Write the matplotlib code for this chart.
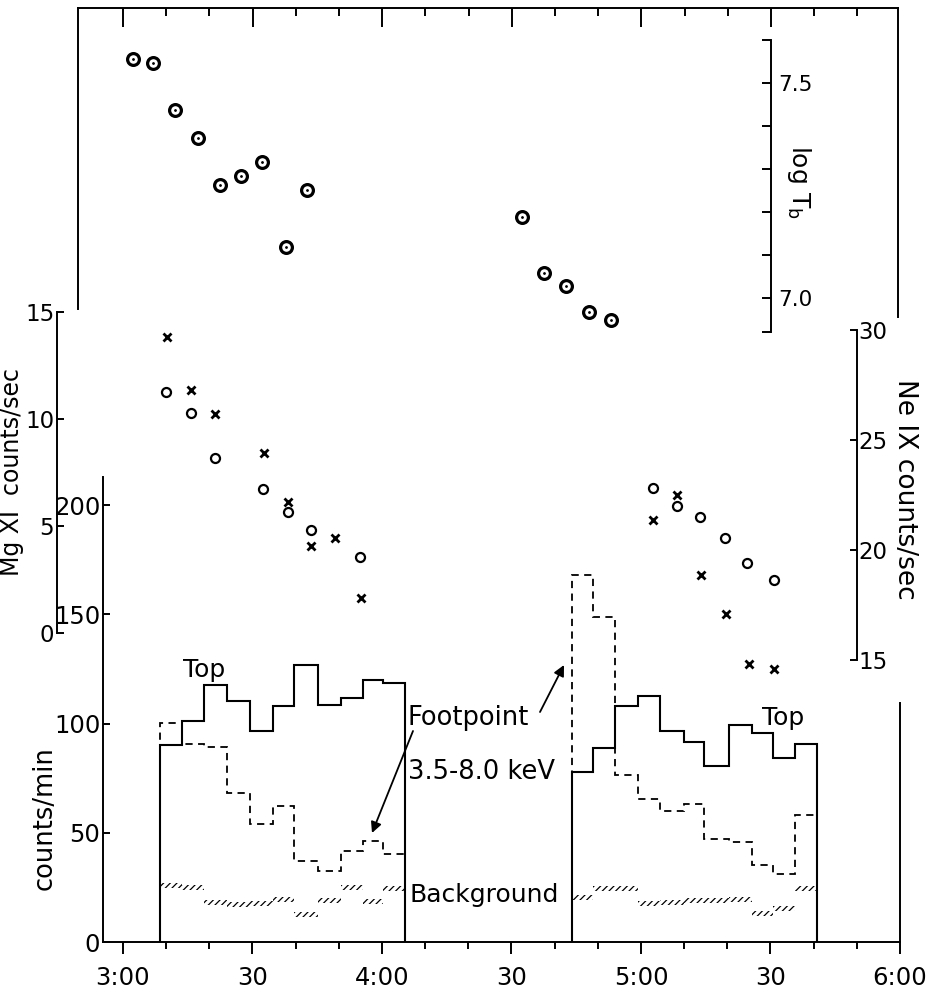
import matplotlib
matplotlib.use('Agg')
import matplotlib.pyplot as plt
from matplotlib.ticker import FixedLocator, NullFormatter

plt.rcParams['font.family'] = ['DejaVu Sans']
plt.rcParams['hatch.color'] = 'black'
plt.rcParams['hatch.linewidth'] = 0.9

# ---- data, time in minutes after 3:00 UT ----
# log Tb (circled dots, top panel)
tb_time = [2.3, 7.0, 12.1, 17.3, 22.5, 27.3, 32.1, 37.7, 42.5,
           92.3, 97.5, 102.5, 107.9, 112.9]
tb_logT = [7.556, 7.546, 7.437, 7.372, 7.262, 7.284, 7.315, 7.117, 7.250,
           7.188, 7.058, 7.027, 6.967, 6.947]

# Mg XI counts/sec (open circles, left scale)
mg_time = [10.0, 15.7, 21.3, 32.4, 38.1, 43.5, 54.9,
           122.6, 128.2, 133.5, 139.3, 144.5, 150.7]
mg_rate = [11.24, 10.29, 8.16, 6.73, 5.67, 4.79, 3.54,
           6.76, 5.94, 5.44, 4.46, 3.29, 2.49]

# Ne IX counts/sec (crosses, right scale)
ne_time = [10.1, 15.7, 21.3, 32.6, 38.1, 43.5, 49.1, 55.1,
           122.8, 128.3, 133.8, 139.5, 144.9, 150.7]
ne_rate = [29.67, 27.27, 26.18, 24.43, 22.16, 20.17, 20.53, 17.83,
           21.38, 22.49, 18.88, 17.11, 14.80, 14.61]

# HXR histograms 3.5-8.0 keV, counts/min
edges_1 = [8.6, 13.6, 18.8, 24.1, 29.4, 34.8, 39.7, 45.2, 50.4, 55.6, 60.3, 65.3]
top_1 = [90.1, 101.1, 117.8, 110.2, 96.8, 108.1, 126.7, 108.4, 111.7, 120.1, 118.6]
foot_1 = [100.3, 90.5, 89.5, 68.4, 54.2, 62.1, 36.9, 32.5, 41.5, 46.1, 40.5]
bg_1 = [26, 25, 18, 17, 17.5, 19.5, 12.5, 19, 25, 18.5, 24.5]

edges_2 = [104.1, 108.9, 114.0, 119.4, 124.5, 129.9, 134.6, 140.3, 145.8, 150.5, 155.7, 160.8]
top_2 = [77.8, 88.8, 108.1, 112.6, 96.6, 91.6, 80.4, 99.2, 95.7, 84.4, 90.7]
foot_2 = [167.9, 148.8, 76.3, 65.6, 60.0, 63.4, 47.3, 45.8, 35.4, 31.3, 58.0]
bg_2 = [20.5, 24.5, 24.5, 17.5, 18, 19, 19, 19.5, 13, 15.5, 24.5]

x_major = [0, 30, 60, 90, 120, 150, 180]
x_labels = ['3:00', '30', '4:00', '30', '5:00', '30', '6:00']
x_minor = [10, 20, 40, 50, 70, 80, 100, 110, 130, 140, 160, 170]

# ---- layout in pixels of the 926x991 image ----
W, H = 926, 991
X0, K = 123.0, 4.32   # pixel of 3:00 and pixels per minute
LW = 1.4
FS = 17.5


def box(l, t, r, b):
    return [l / W, 1 - b / H, (r - l) / W, (b - t) / H]


def tlim(l, r):
    return ((l - X0) / K, (r - X0) / K)


def fxy(px, py):
    return (px / W, 1 - py / H)


def bare(ax):
    ax.set_facecolor('none')
    for s in ax.spines.values():
        s.set_visible(False)
        s.set_linewidth(LW)
    ax.set_xticks([])
    ax.set_yticks([])


fig = plt.figure(figsize=(W / 100, H / 100), dpi=100)

# top frame with ticks hanging from the top edge
ax_top = fig.add_axes(box(78, 8, 898, 317))
bare(ax_top)
ax_top.set_xlim(*tlim(78, 898))
ax_top.set_ylim(0, 1)
for s in ['top', 'left', 'right']:
    ax_top.spines[s].set_visible(True)
ax_top.spines['left'].set_bounds(8 / 309, 1)
ax_top.xaxis.set_ticks_position('top')
ax_top.set_xticks([0, 30, 60, 90, 120, 150])
ax_top.set_xticks(x_minor, minor=True)
ax_top.xaxis.set_major_formatter(NullFormatter())
ax_top.tick_params(axis='x', which='major', direction='in', length=14, width=LW)
ax_top.tick_params(axis='x', which='minor', direction='in', length=6, width=LW)

# log Tb scale
ax_T = fig.add_axes(box(78, 40, 898, 332))
bare(ax_T)
ax_T.set_xlim(*tlim(78, 898))
ax_T.set_ylim(6.92, 7.6)
ax_T.spines['right'].set_visible(True)
ax_T.spines['right'].set_position(('data', 150))
ax_T.yaxis.set_ticks_position('right')
ax_T.set_yticks([7.0, 7.5])
ax_T.set_yticklabels(['7.0', '7.5'])
ax_T.yaxis.set_minor_locator(FixedLocator([6.92, 7.1, 7.2, 7.3, 7.4, 7.6]))
ax_T.tick_params(axis='y', which='both', direction='in', length=6.5, width=LW,
                 pad=5, labelsize=15.5)
ax_T.plot(tb_time, tb_logT, 'o', mfc='white', mec='black', ms=8.5, mew=2.3, clip_on=False)
ax_T.plot(tb_time, tb_logT, '.', color='black', ms=2, clip_on=False)

# Mg XI scale
ax_mg = fig.add_axes(box(57, 312, 898, 633))
bare(ax_mg)
ax_mg.set_xlim(*tlim(57, 898))
ax_mg.set_ylim(0, 15)
ax_mg.spines['left'].set_visible(True)
ax_mg.set_yticks([0, 5, 10, 15])
ax_mg.tick_params(axis='y', direction='in', length=5, width=LW, pad=2, labelsize=16.5)
ax_mg.plot(mg_time, mg_rate, 'o', mfc='none', mec='black', ms=6.5, mew=1.6, clip_on=False)

# Ne IX scale
ax_ne = fig.add_axes(box(57, 330, 898, 660))
bare(ax_ne)
ax_ne.set_xlim(*tlim(57, 898))
ax_ne.set_ylim(15, 30)
ax_ne.spines['right'].set_visible(True)
ax_ne.spines['right'].set_position(('data', 170))
ax_ne.yaxis.set_ticks_position('right')
ax_ne.set_yticks([15, 20, 25, 30])
ax_ne.tick_params(axis='y', direction='in', length=5, width=LW, pad=1, labelsize=16.5)
ax_ne.plot(ne_time, ne_rate, 'x', color='black', ms=5.5, mew=2, clip_on=False)

# hard X-ray counts panel
ax_b = fig.add_axes(box(103, 477, 900, 942))
bare(ax_b)
ax_b.set_xlim(*tlim(103, 900))
ax_b.set_ylim(0, (942 - 477) / 2.184)
for s in ['left', 'bottom', 'right']:
    ax_b.spines[s].set_visible(True)
ax_b.spines['right'].set_bounds(0, (942 - 703) / 2.184)
ax_b.set_xticks(x_major)
ax_b.set_xticklabels(x_labels)
ax_b.set_xticks(x_minor, minor=True)
ax_b.tick_params(axis='x', which='major', direction='out', length=8.5, width=LW,
                 pad=9, labelsize=FS)
ax_b.tick_params(axis='x', which='minor', direction='out', length=5, width=LW)
ax_b.set_yticks([0, 50, 100, 150, 200])
ax_b.tick_params(axis='y', direction='in', length=5, width=LW, pad=2, labelsize=FS)

for edges, top, foot, bg in [(edges_1, top_1, foot_1, bg_1), (edges_2, top_2, foot_2, bg_2)]:
    ax_b.stairs(top, edges, baseline=0, color='black', lw=1.5)
    ax_b.stairs(foot, edges, baseline=0, color='black', lw=1.3, linestyle=(0, (4, 3)))
    widths = [b - a for a, b in zip(edges[:-1], edges[1:])]
    ax_b.bar(edges[:-1], [2.4] * len(bg), width=widths, bottom=[v - 1.2 for v in bg],
             align='edge', fill=False, hatch='/////', linewidth=0)

# texts
fig.text(*fxy(204, 677), 'Top', fontsize=18, ha='center', va='baseline')
fig.text(*fxy(783, 725), 'Top', fontsize=18, ha='center', va='baseline')
fig.text(*fxy(408, 725), 'Footpoint', fontsize=18.5, ha='left', va='baseline')
fig.text(*fxy(408, 779), '3.5-8.0 keV', fontsize=18.5, ha='left', va='baseline')
fig.text(*fxy(410, 902), 'Background', fontsize=18, ha='left', va='baseline')
fig.text(*fxy(12, 472), 'Mg XI  counts/sec', fontsize=17, rotation=90, ha='center', va='center')
fig.text(*fxy(45, 818), 'counts/min', fontsize=18.5, rotation=90, ha='center', va='center')
fig.text(*fxy(799, 182), r'log T$_\mathregular{b}$', fontsize=18, rotation=270,
         ha='center', va='center')
fig.text(*fxy(905, 489), 'Ne IX counts/sec', fontsize=19, rotation=270, ha='center', va='center')

arrow = dict(arrowstyle='-|>', color='black', lw=1.3, mutation_scale=16, shrinkA=0, shrinkB=0)
fig.add_artist(plt.Annotation('', xy=fxy(372, 833), xytext=fxy(413, 731),
                              xycoords='figure fraction', arrowprops=arrow))
fig.add_artist(plt.Annotation('', xy=fxy(564, 665), xytext=fxy(540, 712),
                              xycoords='figure fraction', arrowprops=arrow))

fig.savefig('out.png', dpi=100, facecolor='white')
